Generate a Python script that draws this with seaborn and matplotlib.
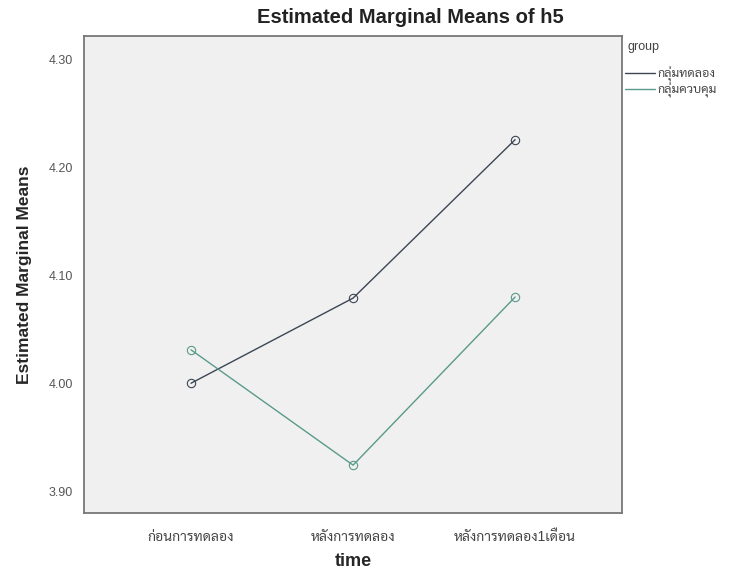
import matplotlib
matplotlib.use("Agg")
import matplotlib.pyplot as plt
from matplotlib.lines import Line2D
import seaborn as sns
import pandas as pd

times = ["ก่อนการทดลอง", "หลังการทดลอง", "หลังการทดลอง1เดือน"]
groups = ["กลุ่มทดลอง", "กลุ่มควบคุม"]
exp_values = [4.000, 4.079, 4.226]
ctrl_values = [4.031, 3.924, 4.080]
yticks = [3.90, 4.00, 4.10, 4.20, 4.30]

df = pd.DataFrame({
    "x": list(range(len(times))) * 2,
    "group": [groups[0]] * 3 + [groups[1]] * 3,
    "mean": exp_values + ctrl_values,
})

sns.set_style("white")
plt.rcParams["font.family"] = ["Liberation Sans", "Sarabun", "DejaVu Sans"]

fig = plt.figure(figsize=(7.31, 5.69), dpi=100)
ax = fig.add_axes([0.115, 0.0984, 0.736, 0.838])
ax.set_facecolor("#f0f0f0")

palette = {groups[0]: "#3c4654", groups[1]: "#5a9a8a"}
sns.lineplot(data=df, x="x", y="mean", hue="group", palette=palette,
             marker="o", markersize=6, markerfacecolor="none",
             markeredgewidth=0.8, linewidth=1.0, ax=ax, legend=False)
for line in ax.lines:
    line.set_markeredgecolor(line.get_color())

ax.set_xlim(-0.66, 2.66)
ax.set_ylim(3.8796, 4.322)
ax.set_xticks(range(len(times)))
ax.set_xticklabels(times, fontsize=10, color="#444444")
ax.set_yticks(yticks)
ax.set_yticklabels([f"{v:.2f}" for v in yticks], fontsize=9, color="#555555")
ax.tick_params(axis="both", length=7, width=0.8, color="#555555",
               direction="out", pad=1)
ax.tick_params(axis="x", pad=5)
for s in ax.spines.values():
    s.set_color("#777777")
    s.set_linewidth(1.3)

ax.set_xlabel("time", fontsize=13, fontweight="bold", labelpad=7)
ax.set_ylabel("Estimated Marginal Means", fontsize=12.5, fontweight="bold",
              labelpad=12)
fig.text(0.561, 0.97, "Estimated Marginal Means of h5", fontsize=14.5,
         fontweight="bold", ha="center", va="center", color="#222222")

# legend outside right
fig.text(0.859, 0.917, "group", fontsize=9, color="#444444", va="center")
handles = [Line2D([0], [0], color=palette[g], lw=1.0) for g in groups]
fig.legend(handles, groups, loc="upper left", bbox_to_anchor=(0.855, 0.883),
           frameon=False, fontsize=9, handlelength=2.4, handletextpad=0.2,
           labelspacing=0.05, borderpad=0, borderaxespad=0,
           labelcolor="#444444")

fig.savefig("out.png", dpi=100)
